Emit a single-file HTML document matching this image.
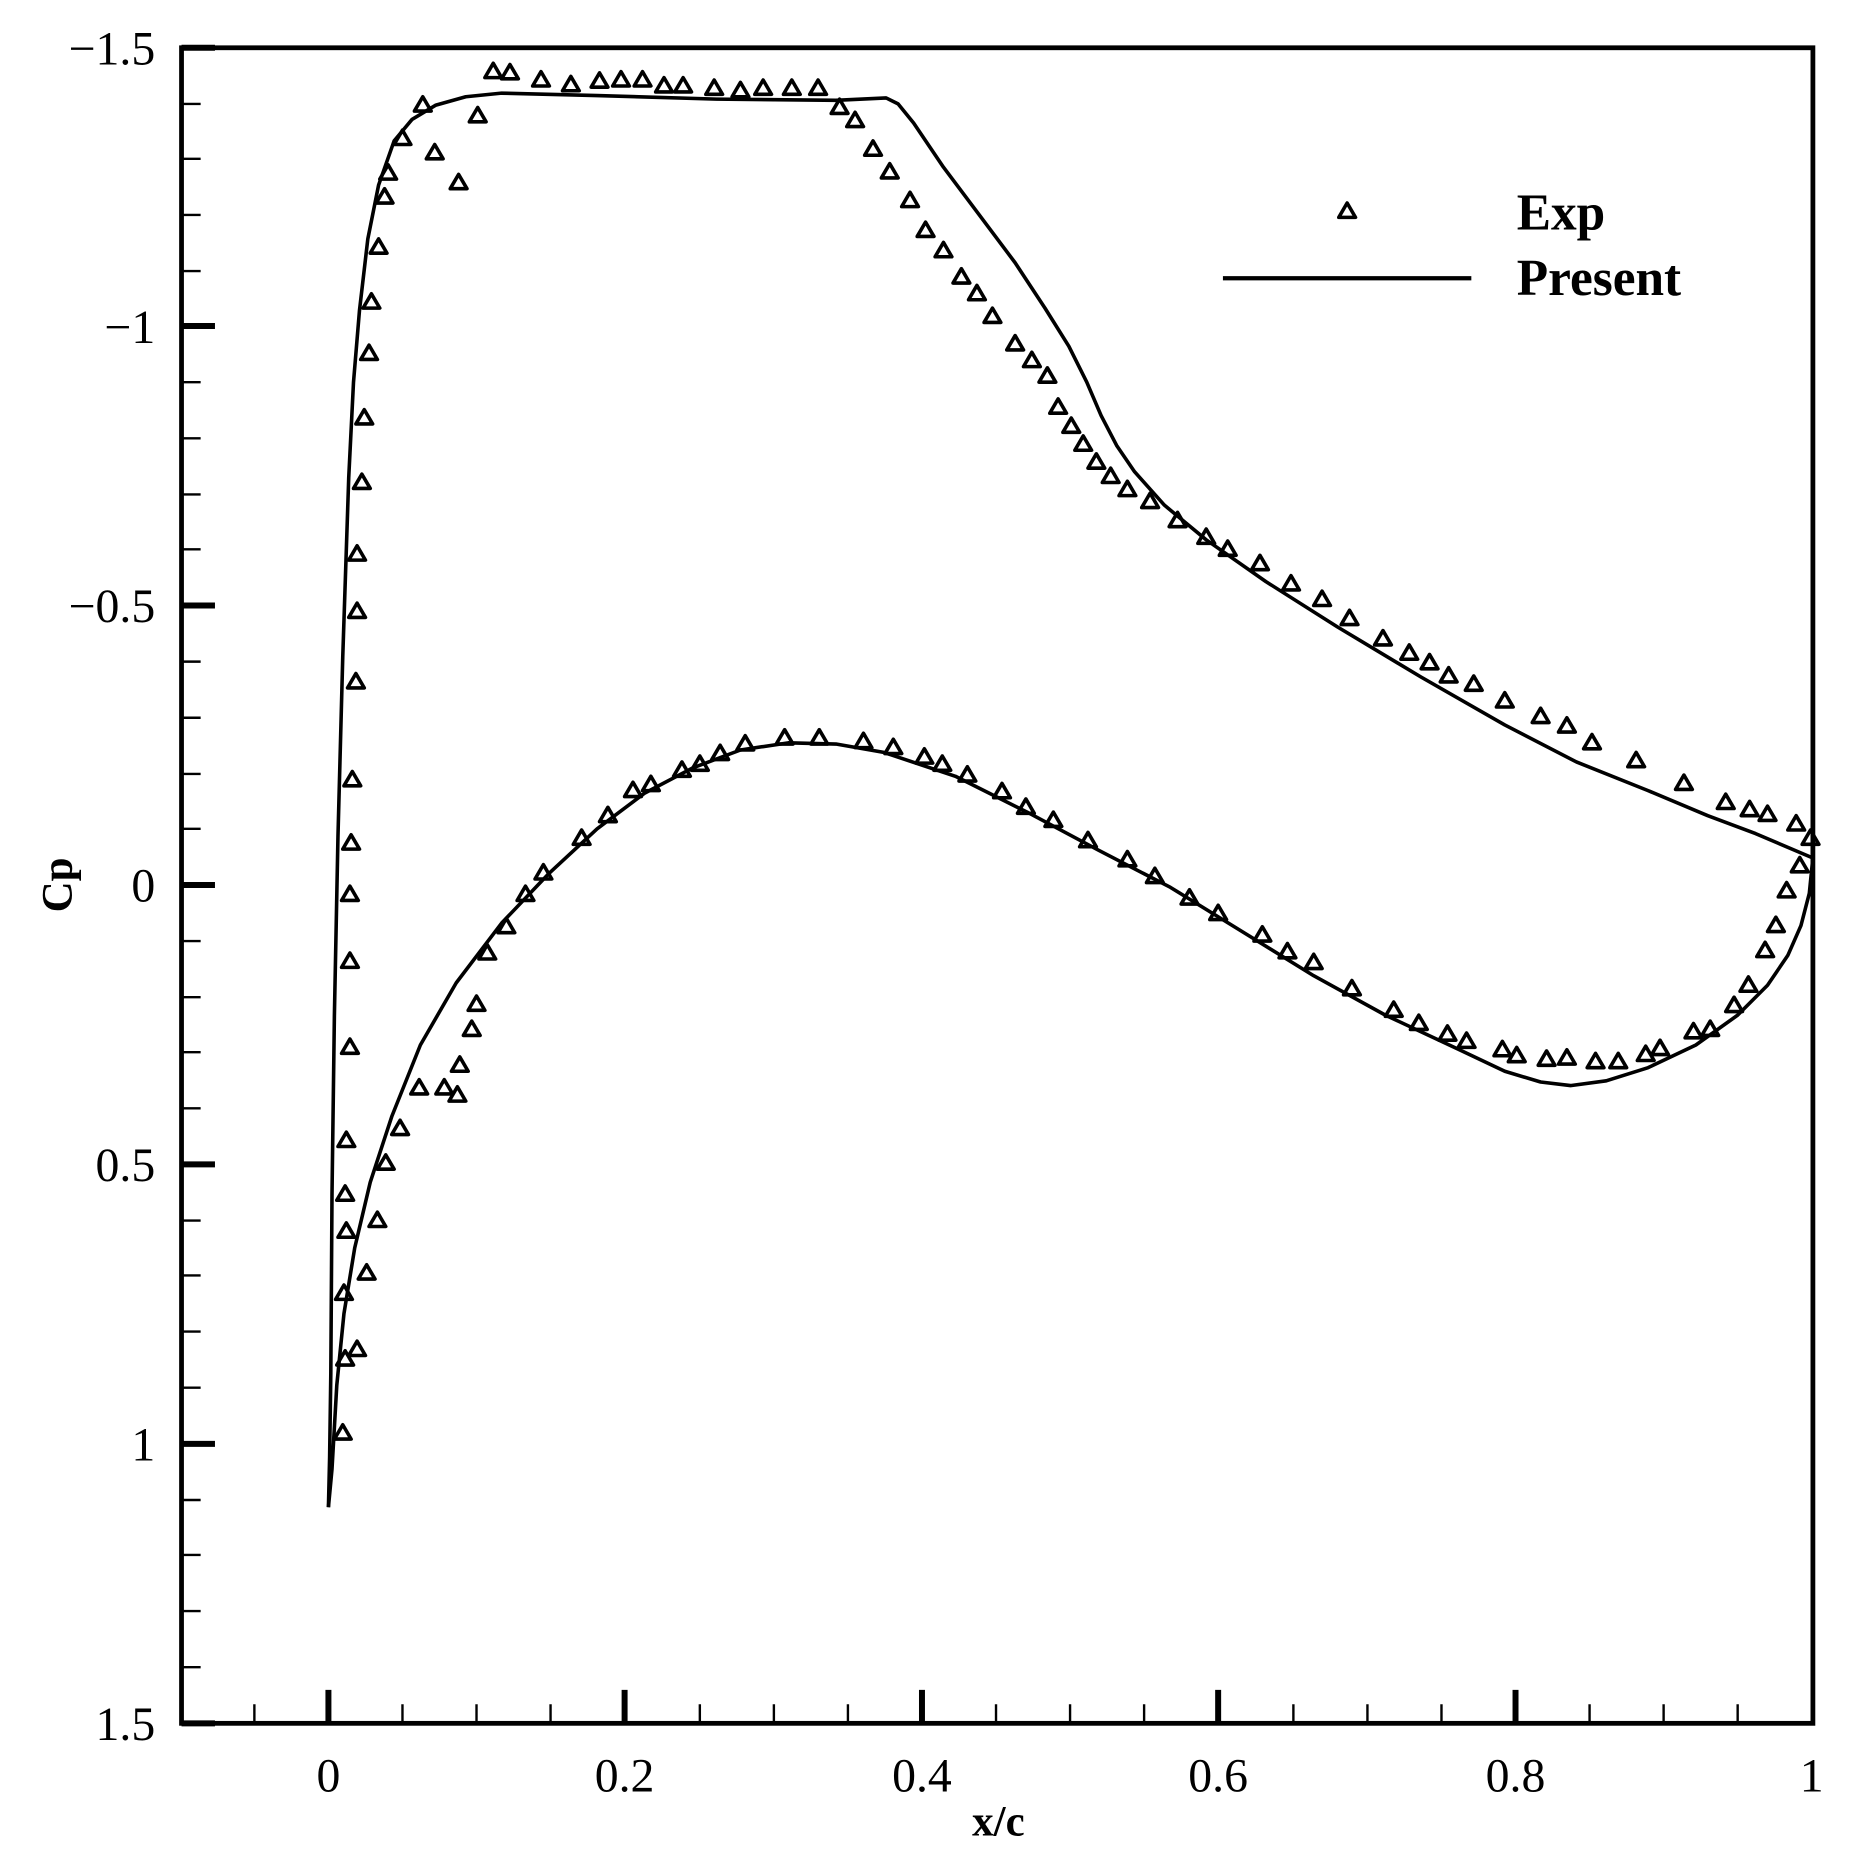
<!DOCTYPE html>
<html><head><meta charset="utf-8"><style>
html,body{margin:0;padding:0;background:#fff;}
svg{display:block;}
text{font-family:"Liberation Serif",serif;fill:#000;}
</style></head><body>
<svg width="1875" height="1875" viewBox="0 0 1570 1570" xmlns="http://www.w3.org/2000/svg">
<defs><path id="t" d="M0,-7 L7,5 L-7,5 Z" fill="none" stroke="#000" stroke-width="3" stroke-linejoin="round"/></defs>
<rect x="0" y="0" width="1570" height="1570" fill="#fff"/>
<rect x="152" y="40" width="1366" height="1403" fill="none" stroke="#000" stroke-width="4"/>
<g stroke="#000" stroke-width="2">
<path d="M213,1443v-16M337,1443v-16M399,1443v-16M461,1443v-16M586,1443v-16M648,1443v-16M710,1443v-16M834,1443v-16M896,1443v-16M958,1443v-16M1083,1443v-16M1145,1443v-16M1207,1443v-16M1331,1443v-16M1393,1443v-16M1455,1443v-16"/>
<path d="M152,87h16M152,133h16M152,180h16M152,227h16M152,320h16M152,367h16M152,414h16M152,460h16M152,554h16M152,601h16M152,648h16M152,694h16M152,788h16M152,835h16M152,881h16M152,928h16M152,1022h16M152,1068h16M152,1115h16M152,1162h16M152,1256h16M152,1302h16M152,1349h16M152,1396h16"/>
</g>
<g stroke="#000" stroke-width="5">
<path d="M275,1443v-28M523,1443v-28M772,1443v-28M1020,1443v-28M1269,1443v-28M152,273h28M152,507h28M152,741h28M152,975h28M152,1209h28M152,1443h28M152,40h28"/>
</g>
<g font-size="40" text-anchor="end">
<text x="130" y="54">−1.5</text><text x="130" y="287">−1</text><text x="130" y="521">−0.5</text><text x="130" y="755">0</text><text x="130" y="989">0.5</text><text x="130" y="1223">1</text><text x="130" y="1457">1.5</text>
</g>
<g font-size="40" text-anchor="middle">
<text x="275" y="1500">0</text><text x="523" y="1500">0.2</text><text x="772" y="1500">0.4</text><text x="1020" y="1500">0.6</text><text x="1269" y="1500">0.8</text><text x="1517" y="1500">1</text>
</g>
<text x="836" y="1537" font-size="36" font-weight="bold" text-anchor="middle">x/c</text>
<text transform="translate(60,741) rotate(-90)" font-size="36" font-weight="bold" text-anchor="middle">Cp</text>
<use href="#t" x="1128" y="177"/>
<text x="1270" y="192" font-size="43" font-weight="bold">Exp</text>
<line x1="1024" y1="233" x2="1232" y2="233" stroke="#000" stroke-width="3.5"/>
<text x="1270" y="247" font-size="43" font-weight="bold">Present</text>
<g fill="none" stroke="#000" stroke-width="3" stroke-linejoin="round">
<polyline points="275,1262 276,1220 277,1150 278,1000 280,850 283,700 287,550 292,400 296,320 301,260 308,200 317,155 330,118 345,100 365,88 390,81 420,78 500,80 600,83 700,84 742,82 752,87 765,103 790,140 820,180 850,220 875,258 895,290 910,320 922,348 935,373 950,395 975,423 1010,452 1060,487 1120,525 1190,567 1260,607 1320,638 1380,662 1430,683 1470,698 1517,718"/>
<polyline points="275,1262 278,1230 282,1160 288,1100 297,1045 310,990 328,935 352,875 382,823 420,773 460,731 500,694 540,664 580,643 620,628 660,622 700,623 740,630 800,650 860,680 920,712 980,743 1040,780 1100,817 1160,850 1220,878 1260,897 1290,906 1315,909 1345,905 1380,894 1420,875 1455,850 1480,825 1497,800 1508,775 1515,748 1518,718"/>
</g>
<g>
<use href="#t" x="287" y="1200"/><use href="#t" x="289" y="1138"/><use href="#t" x="288" y="1083"/><use href="#t" x="290" y="1031"/><use href="#t" x="289" y="1000"/><use href="#t" x="290" y="955"/><use href="#t" x="293" y="877"/><use href="#t" x="293" y="805"/><use href="#t" x="293" y="749"/><use href="#t" x="294" y="706"/><use href="#t" x="295" y="653"/><use href="#t" x="298" y="571"/><use href="#t" x="299" y="512"/><use href="#t" x="299" y="464"/><use href="#t" x="303" y="404"/><use href="#t" x="305" y="350"/><use href="#t" x="309" y="296"/><use href="#t" x="311" y="253"/><use href="#t" x="317" y="207"/><use href="#t" x="322" y="165"/><use href="#t" x="325" y="145"/><use href="#t" x="337" y="116"/><use href="#t" x="354" y="88"/><use href="#t" x="364" y="128"/><use href="#t" x="384" y="153"/><use href="#t" x="400" y="97"/><use href="#t" x="413" y="60"/><use href="#t" x="427" y="61"/><use href="#t" x="453" y="67"/><use href="#t" x="478" y="71"/><use href="#t" x="502" y="68"/><use href="#t" x="520" y="67"/><use href="#t" x="538" y="67"/><use href="#t" x="556" y="72"/><use href="#t" x="572" y="72"/><use href="#t" x="598" y="74"/><use href="#t" x="620" y="76"/><use href="#t" x="639" y="74"/><use href="#t" x="663" y="74"/><use href="#t" x="685" y="74"/><use href="#t" x="703" y="90"/><use href="#t" x="716" y="101"/><use href="#t" x="731" y="125"/><use href="#t" x="745" y="144"/><use href="#t" x="762" y="168"/><use href="#t" x="775" y="193"/><use href="#t" x="790" y="210"/><use href="#t" x="805" y="232"/><use href="#t" x="818" y="246"/><use href="#t" x="831" y="265"/><use href="#t" x="850" y="288"/><use href="#t" x="864" y="302"/><use href="#t" x="877" y="315"/><use href="#t" x="886" y="341"/><use href="#t" x="897" y="357"/><use href="#t" x="907" y="372"/><use href="#t" x="918" y="387"/><use href="#t" x="930" y="399"/><use href="#t" x="944" y="410"/><use href="#t" x="963" y="420"/><use href="#t" x="986" y="436"/><use href="#t" x="1010" y="450"/><use href="#t" x="1028" y="460"/><use href="#t" x="1055" y="472"/><use href="#t" x="1081" y="489"/><use href="#t" x="1107" y="502"/><use href="#t" x="1130" y="518"/><use href="#t" x="1158" y="535"/><use href="#t" x="1180" y="547"/><use href="#t" x="1197" y="555"/><use href="#t" x="1213" y="566"/><use href="#t" x="1234" y="573"/><use href="#t" x="1260" y="587"/><use href="#t" x="1290" y="600"/><use href="#t" x="1312" y="608"/><use href="#t" x="1333" y="622"/><use href="#t" x="1370" y="637"/><use href="#t" x="1410" y="656"/><use href="#t" x="1445" y="672"/><use href="#t" x="1465" y="678"/><use href="#t" x="1480" y="682"/><use href="#t" x="1504" y="690"/><use href="#t" x="1516" y="702"/>
<use href="#t" x="1507" y="725"/><use href="#t" x="1496" y="746"/><use href="#t" x="1487" y="775"/><use href="#t" x="1478" y="796"/><use href="#t" x="1464" y="825"/><use href="#t" x="1452" y="842"/><use href="#t" x="1432" y="862"/><use href="#t" x="1418" y="864"/><use href="#t" x="1390" y="878"/><use href="#t" x="1378" y="883"/><use href="#t" x="1355" y="889"/><use href="#t" x="1336" y="889"/><use href="#t" x="1312" y="886"/><use href="#t" x="1295" y="887"/><use href="#t" x="1270" y="884"/><use href="#t" x="1258" y="879"/><use href="#t" x="1228" y="872"/><use href="#t" x="1212" y="866"/><use href="#t" x="1188" y="857"/><use href="#t" x="1167" y="846"/><use href="#t" x="1132" y="828"/><use href="#t" x="1100" y="806"/><use href="#t" x="1078" y="797"/><use href="#t" x="1057" y="783"/><use href="#t" x="1020" y="765"/><use href="#t" x="996" y="752"/><use href="#t" x="967" y="734"/><use href="#t" x="944" y="720"/><use href="#t" x="911" y="704"/><use href="#t" x="882" y="687"/><use href="#t" x="859" y="676"/><use href="#t" x="839" y="663"/><use href="#t" x="810" y="649"/><use href="#t" x="789" y="640"/><use href="#t" x="774" y="634"/><use href="#t" x="748" y="626"/><use href="#t" x="723" y="621"/><use href="#t" x="686" y="618"/><use href="#t" x="657" y="618"/><use href="#t" x="624" y="623"/><use href="#t" x="603" y="631"/><use href="#t" x="586" y="640"/><use href="#t" x="571" y="645"/><use href="#t" x="545" y="657"/><use href="#t" x="530" y="662"/><use href="#t" x="509" y="683"/><use href="#t" x="487" y="702"/><use href="#t" x="455" y="731"/><use href="#t" x="440" y="749"/><use href="#t" x="424" y="776"/><use href="#t" x="408" y="798"/><use href="#t" x="399" y="841"/><use href="#t" x="395" y="862"/><use href="#t" x="385" y="892"/><use href="#t" x="383" y="917"/><use href="#t" x="372" y="911"/><use href="#t" x="351" y="911"/><use href="#t" x="335" y="945"/><use href="#t" x="323" y="974"/><use href="#t" x="316" y="1022"/><use href="#t" x="307" y="1066"/><use href="#t" x="299" y="1130"/>
</g>
</svg>
</body></html>
